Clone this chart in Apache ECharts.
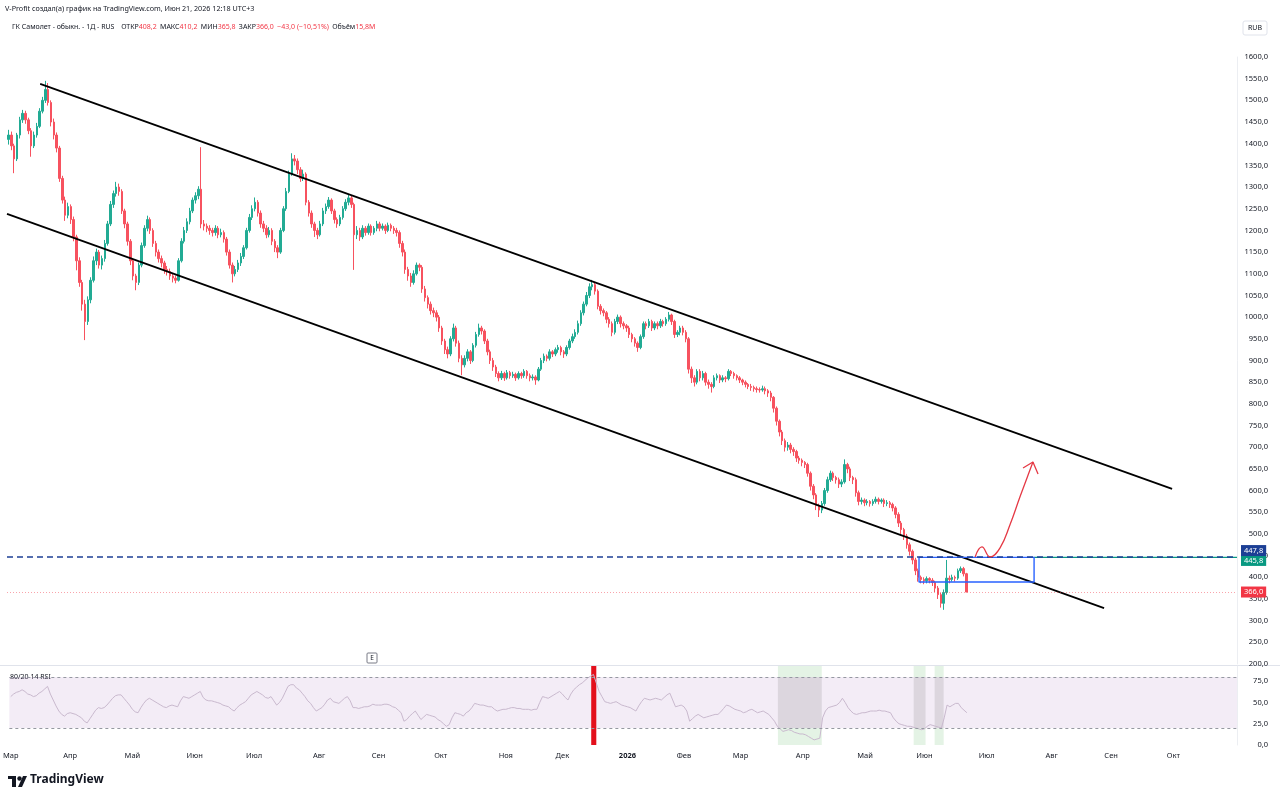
<!DOCTYPE html>
<html>
<head>
<meta charset="utf-8">
<script src="https://cdn.jsdelivr.net/npm/echarts@6/dist/echarts.min.js"></script>
<style>
html, body { margin: 0; padding: 0; background: #fff; }
#chart { width: 1280px; height: 800px; }
</style>
</head>
<body>
<div id="chart"></div>
<script>
// daily bars [open, close, low, high], from 3 Mar 2025
const candles = [
  [1410,1420,1398,1432],[1420,1395,1385,1428],[1395,1365,1332,1400],[1365,1420,1360,1425],[1420,1455,1412,1462],
  [1455,1470,1448,1478],[1470,1455,1446,1476],[1455,1430,1422,1460],[1430,1395,1370,1436],[1395,1420,1390,1428],
  [1420,1440,1414,1448],[1440,1475,1436,1482],[1475,1500,1470,1508],[1500,1525,1494,1545],[1525,1495,1488,1540],
  [1495,1450,1440,1500],[1450,1420,1410,1458],[1420,1390,1380,1426],[1390,1320,1312,1395],[1320,1270,1262,1326],
  [1270,1235,1222,1278],[1235,1255,1228,1264],[1255,1225,1215,1260],[1225,1185,1175,1232],[1185,1130,1108,1190],
  [1130,1080,1070,1138],[1080,1030,1015,1086],[1030,990,947,1040],[990,1040,982,1048],[1040,1085,1032,1092],
  [1085,1130,1080,1140],[1130,1150,1120,1158],[1150,1120,1112,1155],[1120,1135,1110,1142],[1135,1170,1128,1178],
  [1170,1215,1165,1222],[1215,1260,1210,1268],[1260,1285,1252,1292],[1285,1300,1278,1312],[1300,1290,1280,1308],
  [1290,1245,1238,1295],[1245,1215,1205,1250],[1215,1175,1165,1220],[1175,1130,1120,1180],[1130,1095,1085,1136],
  [1095,1080,1062,1100],[1080,1120,1074,1126],[1120,1165,1115,1172],[1165,1205,1160,1212],[1205,1225,1198,1234],
  [1225,1200,1192,1230],[1200,1170,1162,1205],[1170,1150,1140,1176],[1150,1135,1126,1156],[1135,1125,1115,1142],
  [1125,1110,1100,1130],[1110,1105,1096,1118],[1105,1095,1086,1112],[1095,1090,1080,1100],[1090,1085,1078,1096],
  [1085,1130,1082,1136],[1130,1175,1126,1182],[1175,1200,1170,1208],[1200,1220,1194,1228],[1220,1245,1214,1252],
  [1245,1270,1240,1276],[1270,1280,1262,1288],[1280,1295,1272,1302],[1295,1215,1205,1392],[1215,1210,1200,1224],
  [1210,1205,1196,1216],[1205,1200,1190,1212],[1200,1195,1186,1206],[1195,1205,1188,1212],[1205,1190,1182,1210],
  [1190,1195,1184,1204],[1195,1180,1172,1200],[1180,1150,1142,1185],[1150,1120,1112,1156],[1120,1100,1080,1126],
  [1100,1110,1094,1118],[1110,1125,1104,1132],[1125,1140,1118,1148],[1140,1160,1134,1166],[1160,1200,1156,1206],
  [1200,1230,1195,1238],[1230,1250,1224,1258],[1250,1265,1244,1276],[1265,1240,1232,1270],[1240,1215,1206,1246],
  [1215,1205,1196,1222],[1205,1190,1182,1212],[1190,1200,1184,1208],[1200,1175,1166,1205],[1175,1160,1150,1180],
  [1160,1150,1136,1166],[1150,1200,1146,1206],[1200,1250,1196,1256],[1250,1290,1245,1298],[1290,1330,1286,1338],
  [1330,1365,1326,1378],[1365,1360,1350,1374],[1360,1340,1330,1366],[1340,1320,1312,1346],[1320,1330,1314,1340],
  [1330,1265,1258,1334],[1265,1240,1232,1270],[1240,1215,1206,1246],[1215,1200,1185,1220],[1200,1190,1180,1206],
  [1190,1215,1186,1222],[1215,1245,1210,1252],[1245,1255,1238,1262],[1255,1270,1250,1277],[1270,1245,1238,1274],
  [1245,1225,1216,1250],[1225,1215,1206,1230],[1215,1230,1210,1236],[1230,1250,1225,1256],[1250,1265,1245,1272],
  [1265,1275,1258,1282],[1275,1260,1252,1280],[1260,1190,1109,1264],[1190,1200,1180,1210],[1200,1185,1176,1206],
  [1185,1205,1180,1212],[1205,1195,1188,1210],[1195,1210,1190,1216],[1210,1195,1188,1214],[1195,1205,1190,1210],
  [1205,1215,1198,1222],[1215,1205,1198,1220],[1205,1210,1200,1216],[1210,1200,1192,1214],[1200,1212,1196,1218],
  [1212,1205,1198,1216],[1205,1200,1192,1210],[1200,1195,1186,1206],[1195,1170,1160,1200],[1170,1150,1140,1176],
  [1150,1110,1100,1156],[1110,1095,1084,1116],[1095,1080,1070,1102],[1080,1100,1075,1108],[1100,1120,1096,1126],
  [1120,1115,1106,1124],[1115,1065,1056,1120],[1065,1045,1036,1072],[1045,1030,1020,1050],[1030,1015,1006,1036],
  [1015,1010,1000,1022],[1010,1000,990,1016],[1000,975,966,1005],[975,945,936,980],[945,925,915,950],
  [925,915,905,932],[915,950,910,956],[950,975,944,985],[975,940,932,980],[940,905,896,946],
  [905,890,866,912],[890,905,884,912],[905,920,898,926],[920,900,892,924],[900,935,896,940],
  [935,960,930,966],[960,975,955,985],[975,968,960,980],[968,945,938,972],[945,920,912,950],
  [920,900,892,925],[900,885,876,906],[885,870,862,890],[870,860,852,875],[860,870,855,876],
  [870,860,853,874],[860,872,856,878],[872,865,858,876],[865,868,860,874],[868,860,853,872],
  [860,870,856,875],[870,865,858,874],[865,875,860,880],[875,865,858,878],[865,860,852,870],
  [860,862,854,868],[862,855,844,866],[855,880,852,885],[880,900,876,906],[900,910,894,916],
  [910,905,898,914],[905,920,900,926],[920,915,908,924],[915,925,910,930],[925,930,918,936],
  [930,920,912,934],[920,915,906,924],[915,930,910,935],[930,945,925,950],[945,955,940,962],
  [955,965,950,972],[965,985,960,992],[985,1010,980,1016],[1010,1030,1004,1036],[1030,1050,1025,1058],
  [1050,1070,1044,1078],[1070,1075,1062,1086],[1075,1060,1052,1080],[1060,1025,1018,1064],[1025,1015,1006,1030],
  [1015,1010,1002,1020],[1010,995,986,1014],[995,985,976,1000],[985,965,956,990],[965,990,960,996],
  [990,1000,984,1006],[1000,985,976,1004],[985,980,972,990],[980,975,966,984],[975,960,952,980],
  [960,950,942,964],[950,940,932,954],[940,930,920,944],[930,955,926,960],[955,985,950,990],
  [985,980,972,990],[980,990,975,996],[990,975,968,994],[975,985,970,990],[985,980,972,990],
  [980,990,975,996],[990,985,978,994],[985,995,980,1000],[995,1005,990,1012],[1005,990,982,1008],
  [990,960,952,994],[960,965,954,970],[965,975,958,980],[975,965,958,980],[965,950,942,970],
  [950,880,870,954],[880,860,848,886],[860,850,840,866],[850,875,845,880],[875,860,852,880],
  [860,870,854,876],[870,850,842,874],[850,845,835,856],[845,840,826,850],[840,860,836,866],
  [860,865,854,870],[865,855,848,868],[855,860,850,866],[860,858,850,864],[858,875,854,880],
  [875,870,864,878],[870,865,858,874],[865,860,854,868],[860,855,848,864],[855,850,843,858],
  [850,845,838,854],[845,840,834,848],[840,838,830,846],[838,835,828,842],[835,833,826,840],
  [833,832,826,838],[832,835,828,842],[835,830,822,840],[830,825,816,834],[825,815,806,830],
  [815,790,780,818],[790,760,750,794],[760,735,725,764],[735,715,705,740],[715,700,690,720],
  [700,705,692,712],[705,695,686,710],[695,690,680,700],[690,675,666,694],[675,670,662,680],
  [670,665,656,674],[665,660,652,668],[660,640,632,664],[640,610,600,644],[610,590,580,615],
  [590,565,555,594],[565,555,539,570],[555,570,548,576],[570,600,565,606],[600,625,595,632],
  [625,640,620,646],[640,630,622,644],[630,625,616,634],[625,615,606,630],[615,620,608,626],
  [620,660,616,672],[660,650,640,664],[650,630,622,655],[630,625,615,634],[625,595,586,630],
  [595,575,566,600],[575,578,568,584],[578,572,564,582],[572,575,566,580],[575,570,563,578],
  [570,575,565,580],[575,580,570,586],[580,575,568,584],[575,578,570,582],[578,570,562,582],
  [570,572,564,578],[572,568,560,576],[568,560,552,572],[560,545,536,564],[545,525,516,550],
  [525,510,500,530],[510,495,486,514],[495,475,466,500],[475,460,450,480],[460,440,430,464],
  [440,415,405,445],[415,400,390,420],[400,395,386,404],[395,392,384,400],[392,397,386,402],
  [397,393,386,400],[393,388,380,398],[388,375,366,392],[375,360,350,380],[360,340,330,364],
  [340,365,325,372],[365,398,360,440],[398,395,386,404],[395,400,390,406],[400,398,390,404],
  [398,415,394,420],[415,420,410,425],[420,408,402,424],[408.2,366.0,365.8,410.2]
];

// RSI(14), one value per bar
const rsi = [
  57,60,62,63,65,63,60,59,57,58, 61,63,66,69,60,53,46,40,36,34,
  37,38,37,36,34,32,28,26,31,36, 41,44,43,44,47,51,55,58,59,59,
  55,51,47,42,39,38,44,49,53,55, 53,51,49,47,45,44,46,47,46,45,
  52,57,56,55,57,59,61,63,56,53, 52,52,51,50,49,47,46,45,42,40,
  44,47,49,51,55,59,61,63,61,59, 56,55,57,52,47,50,55,62,69,71,
  71,67,65,61,57,52,49,44,40,42, 44,48,53,55,51,50,49,52,55,57,
  52,44,44,43,44,45,45,46,48,47, 47,47,48,48,47,45,44,41,38,28,
  30,34,37,40,35,30,33,36,35,34, 33,30,28,25,22,24,32,38,37,36,
  34,38,40,44,49,48,47,47,46,45, 45,42,40,41,42,42,43,44,44,43,
  43,42,42,42,41,42,42,50,57,56, 55,57,59,61,63,60,56,53,60,65,
  68,71,73,76,79,81,83,73,63,57, 51,50,49,50,51,49,47,46,45,44,
  42,40,46,51,55,54,53,54,55,54, 53,56,59,61,53,45,46,47,45,40,
  28,31,34,36,34,32,33,34,35,36, 36,39,43,47,46,44,42,41,40,38,
  39,41,42,40,38,39,40,38,36,32, 28,22,19,16,17,18,17,15,14,13,
  13,12,10,8,6,7,8,32,40,44, 45,46,47,50,55,50,44,40,37,36,
  37,38,38,39,40,40,40,41,40,40, 39,38,32,28,25,24,23,22,22,21,
  20,19,18,19,22,24,23,22,21,20, 32,47,45,47,49,49,44,41,38
];

const monthNames = ['Янв', 'Фев', 'Мар', 'Апр', 'Май', 'Июн', 'Июл', 'Авг', 'Сен', 'Окт', 'Ноя', 'Дек'];
const holidays = ['2026-01-01', '2026-01-02'];
const totalBars = 434;          // bars incl. empty space on the right
const lastLabelBar = 425;       // no month label past this bar
const levelBlue = 447.8;
const levelGreen = 445.8;
const lastClose = 366.0;
// drawings, as [bar index, price]
const upperChannel = [[11.2, 1538], [410.6, 604]];
const lowerChannel = [[-0.5, 1238], [386.6, 329]];
const zoneBox = [[321.3, 446], [361.9, 446], [361.9, 389], [321.3, 389], [321.3, 446]];
const greenRay = [[361.9, 445.8], [433.5, 445.8]];
const arrowPath = [[341.1, 447], [343.5, 470], [346.4, 447], [349.9, 468], [353.4, 521], [356.9, 585], [359.4, 629], [361.5, 666]];
const arrowHead = [[358.0, 652], [361.5, 666], [363.3, 638]];
const oversoldZones = [[271.2, 286.7], [319.2, 323.4], [326.6, 329.8]];
const signalBar = [205.2, 207.0];

// trading-day calendar for the category axis
const dates = [];
let d = new Date(Date.UTC(2025, 2, 3));
while (dates.length < totalBars) {
  const wd = d.getUTCDay();
  const s = d.toISOString().slice(0, 10);
  if (wd !== 0 && wd !== 6 && holidays.indexOf(s) < 0) dates.push(s);
  d.setUTCDate(d.getUTCDate() + 1);
}
function monthStart(i) {
  if (i > lastLabelBar) return false;
  return i === 0 || dates[i].slice(5, 7) !== dates[i - 1].slice(5, 7);
}
function fmt(v) {
  return v.toFixed(1).replace('.', ',');
}

const FONT = '"Noto Sans", "DejaVu Sans", sans-serif';
const UP = '#22ab94';
const DOWN = '#f7525f';
const TXT = '#131722';

var dom = document.getElementById('chart');
var myChart = echarts.init(dom);

var option = {
  animation: false,
  backgroundColor: '#ffffff',
  textStyle: { fontFamily: FONT },
  grid: [
    { left: 7, right: 43, top: 57, height: 607 },
    { left: 7, right: 43, top: 666, height: 79 }
  ],
  xAxis: [
    { type: 'category', gridIndex: 0, data: dates, boundaryGap: true,
      axisLine: { show: false }, axisTick: { show: false }, axisLabel: { show: false }, splitLine: { show: false } },
    { type: 'category', gridIndex: 1, data: dates, boundaryGap: true,
      axisLine: { show: false }, axisTick: { show: false }, splitLine: { show: false },
      axisLabel: {
        interval: function (i) { return monthStart(i); },
        hideOverlap: false,
        margin: 7,
        fontSize: 7.5,
        color: TXT,
        fontFamily: FONT,
        formatter: function (val) {
          const m = +val.slice(5, 7);
          if (m === 1) return '{b|' + val.slice(0, 4) + '}';
          return monthNames[m - 1];
        },
        rich: { b: { fontWeight: 'bold', fontSize: 7.5, color: TXT, fontFamily: FONT } }
      } },
    { type: 'value', gridIndex: 0, min: -0.5, max: totalBars - 0.5, show: false },
    { type: 'value', gridIndex: 1, min: -0.5, max: totalBars - 0.5, show: false }
  ],
  yAxis: [
    { type: 'value', gridIndex: 0, position: 'right', min: 200, max: 1600, interval: 50,
      axisLine: { show: true, onZero: false, lineStyle: { color: '#eceef2' } }, axisTick: { show: false },
      splitLine: { show: false },
      axisLabel: { align: 'right', margin: 31, fontSize: 7.5, color: TXT, fontFamily: FONT, formatter: fmt } },
    { type: 'value', gridIndex: 1, position: 'right', min: 0, max: 93, interval: 25,
      axisLine: { show: true, onZero: false, lineStyle: { color: '#eceef2' } }, axisTick: { show: false },
      splitLine: { show: false },
      axisLabel: { align: 'right', margin: 31, fontSize: 7.5, color: TXT, fontFamily: FONT,
        formatter: function (v) { return v % 25 === 0 ? fmt(v) : ''; } } }
  ],
  series: [
    {
      name: 'ГК Самолет',
      type: 'candlestick',
      xAxisIndex: 0, yAxisIndex: 0,
      data: candles,
      barWidth: 2,
      itemStyle: { color: UP, color0: DOWN, borderColor: UP, borderColor0: DOWN, borderWidth: 1 },
      markLine: {
        silent: true, symbol: 'none', animation: false,
        data: [
          { yAxis: levelBlue,
            lineStyle: { color: '#1c3f95', type: [6, 4], width: 1.5 },
            label: { show: true, position: 'end', distance: 4, offset: [0, -6], formatter: fmt(levelBlue),
              color: '#fff', backgroundColor: '#1c3f95', padding: [2, 3, 1, 3], fontSize: 7.5, fontFamily: FONT } },
          { yAxis: lastClose,
            lineStyle: { color: 'rgba(242,54,69,0.45)', type: [1, 2], width: 1 },
            label: { show: true, position: 'end', distance: 4, formatter: fmt(lastClose),
              color: '#fff', backgroundColor: '#f23645', padding: [2, 3, 1, 3], fontSize: 7.5, fontFamily: FONT } }
        ]
      },
      z: 3
    },
    {
      type: 'line', xAxisIndex: 2, yAxisIndex: 0, data: greenRay, symbol: 'none',
      lineStyle: { color: '#089981', width: 1.2 }, z: 2,
      endLabel: { show: true, formatter: fmt(levelGreen), offset: [0, 3], distance: 4,
        color: '#fff', backgroundColor: '#089981', padding: [2, 3, 1, 3], fontSize: 7.5, fontFamily: FONT }
    },
    {
      type: 'line', xAxisIndex: 2, yAxisIndex: 0, data: upperChannel, symbol: 'none',
      lineStyle: { color: '#000', width: 1.8 }, z: 4
    },
    {
      type: 'line', xAxisIndex: 2, yAxisIndex: 0, data: lowerChannel, symbol: 'none',
      lineStyle: { color: '#000', width: 1.8 }, z: 4
    },
    {
      type: 'line', xAxisIndex: 2, yAxisIndex: 0, data: zoneBox, symbol: 'none',
      lineStyle: { color: '#2962ff', width: 1.4 }, z: 4
    },
    {
      type: 'line', xAxisIndex: 2, yAxisIndex: 0, data: arrowPath, symbol: 'none', smooth: 0.45,
      lineStyle: { color: '#e53945', width: 1.3 }, z: 5
    },
    {
      type: 'line', xAxisIndex: 2, yAxisIndex: 0, data: arrowHead, symbol: 'none',
      lineStyle: { color: '#e53945', width: 1.3 }, z: 5
    },
    // RSI pane background, bands and highlight zones
    {
      type: 'line', xAxisIndex: 3, yAxisIndex: 1, data: [[-0.5, 50]], symbol: 'none',
      lineStyle: { opacity: 0 }, silent: true, z: 1,
      markArea: {
        silent: true,
        data: [
          [{ xAxis: -0.5, yAxis: 20, itemStyle: { color: 'rgba(150,80,170,0.11)' } }, { xAxis: totalBars - 0.5, yAxis: 80 }]
        ].concat(oversoldZones.map(function (z) {
          return [{ xAxis: z[0], yAxis: 0, itemStyle: { color: 'rgba(76,175,80,0.15)' } }, { xAxis: z[1], yAxis: 20 }];
        })).concat(oversoldZones.map(function (z) {
          return [{ xAxis: z[0], yAxis: 80, itemStyle: { color: 'rgba(76,175,80,0.15)' } }, { xAxis: z[1], yAxis: 93 }];
        })).concat(oversoldZones.map(function (z) {
          return [{ xAxis: z[0], yAxis: 20, itemStyle: { color: 'rgba(128,128,130,0.2)' } }, { xAxis: z[1], yAxis: 80 }];
        })).concat([
          [{ xAxis: signalBar[0], yAxis: 0, itemStyle: { color: '#e3101c' } }, { xAxis: signalBar[1], yAxis: 93 }]
        ])
      },
      markLine: {
        silent: true, symbol: 'none',
        lineStyle: { color: '#9598a1', type: [3, 3], width: 1 },
        label: { show: false },
        data: [{ yAxis: 80 }, { yAxis: 20 }]
      }
    },
    {
      name: 'RSI',
      type: 'line', xAxisIndex: 1, yAxisIndex: 1, data: rsi, symbol: 'none',
      lineStyle: { color: '#c9b9ce', width: 1 }, z: 3
    }
  ],
  graphic: [
    { type: 'text', left: 5, top: 5, style: { text: 'V-Profit создал(а) график на TradingView.com, Июн 21, 2026 12:18 UTC+3', fill: TXT, fontSize: 7.2, fontFamily: FONT } },
    { type: 'text', left: 12, top: 21, style: {
        text: '{d|ГК Самолет - обыкн. - 1Д - RUS}  {d|ОТКР}{r|408,2} {d|МАКС}{r|410,2} {d|МИН}{r|365,8} {d|ЗАКР}{r|366,0} {r|−43,0 (−10,51%)} {d|Объём}{r|15,8M}',
        rich: {
          d: { fill: TXT, fontSize: 7, fontFamily: FONT },
          r: { fill: '#f23645', fontSize: 7, fontFamily: FONT }
        } } },
    { type: 'rect', shape: { x: 1243, y: 21, width: 24, height: 14, r: 2 }, style: { fill: '#fff', stroke: '#e0e3eb', lineWidth: 1 } },
    { type: 'text', x: 1255, y: 28, style: { text: 'RUB', fill: TXT, fontSize: 7, fontFamily: FONT, align: 'center', verticalAlign: 'middle' } },
    { type: 'line', shape: { x1: 0, y1: 665.5, x2: 1280, y2: 665.5 }, style: { stroke: '#e0e3eb', lineWidth: 1 } },
    { type: 'rect', shape: { x: 367, y: 653, width: 10, height: 10, r: 1 }, style: { fill: '#fff', stroke: '#787b86', lineWidth: 1 } },
    { type: 'text', x: 372, y: 658.5, style: { text: 'E', fill: TXT, fontSize: 6.5, fontFamily: FONT, align: 'center', verticalAlign: 'middle' } },
    { type: 'text', left: 10, top: 673, style: { text: '80/20 14 RSI', fill: TXT, fontSize: 7, fontFamily: FONT } },
    // TradingView mark
    { type: 'rect', shape: { x: 8, y: 776, width: 8, height: 3 }, style: { fill: '#131722' } },
    { type: 'rect', shape: { x: 12, y: 776, width: 4, height: 11 }, style: { fill: '#131722' } },
    { type: 'circle', shape: { cx: 19.5, cy: 778.5, r: 2.2 }, style: { fill: '#131722' } },
    { type: 'polygon', shape: { points: [[18, 787], [23, 776], [27, 776], [22, 787]] }, style: { fill: '#131722' } },
    { type: 'text', left: 30, top: 774, style: { text: 'TradingView', fill: '#131722', fontSize: 12, fontWeight: 'bold', fontFamily: FONT } }
  ]
};

if (option && typeof option === 'object') {
  myChart.setOption(option);
}
window.addEventListener('resize', myChart.resize);
</script>
</body>
</html>
